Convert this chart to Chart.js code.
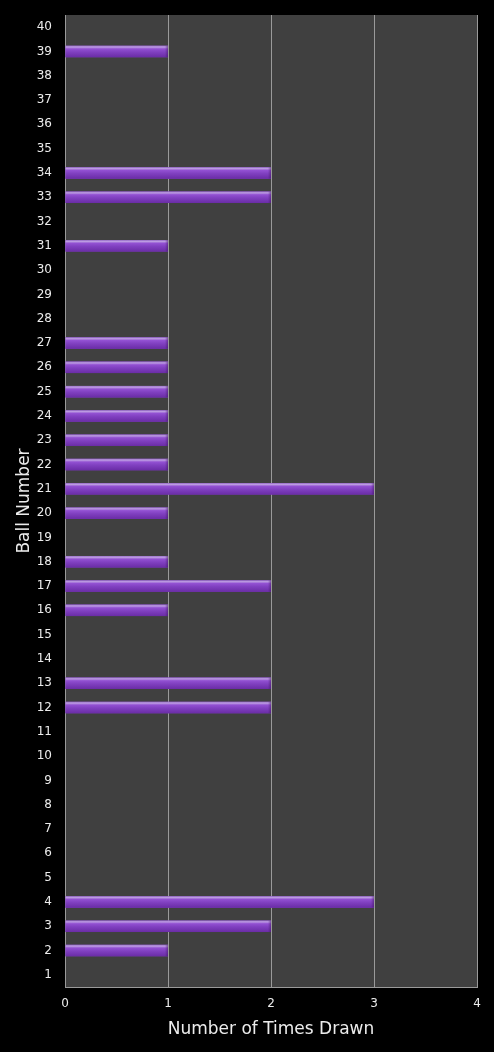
<!DOCTYPE html>
<html>
<head>
<meta charset="utf-8">
<script src="https://cdn.jsdelivr.net/npm/chart.js@4/dist/chart.umd.min.js"></script>
<style>
  html, body { margin: 0; padding: 0; background: #000; }
  #wrap { width: 494px; height: 1052px; }
</style>
</head>
<body>
<div id="wrap"><canvas id="chart"></canvas></div>
<script>
// ball numbers 1..40 and how often each was drawn
const ballNumbers = Array.from({ length: 40 }, (_, i) => String(i + 1));
const timesDrawn = [
  0, 1, 2, 3, 0, 0, 0, 0, 0, 0,   // 1-10
  0, 2, 2, 0, 0, 1, 2, 1, 0, 1,   // 11-20
  3, 1, 1, 1, 1, 1, 1, 0, 0, 0,   // 21-30
  1, 0, 2, 2, 0, 0, 0, 0, 1, 0    // 31-40
];
const xTicks = [0, 1, 2, 3, 4];

const textColor = '#ececec';
const gridColor = '#9a9a9a';

// gray plot background behind the bars
const plotBackground = {
  id: 'plotBackground',
  beforeDraw(chart) {
    const { ctx, chartArea: a } = chart;
    ctx.save();
    ctx.fillStyle = '#000';
    ctx.fillRect(0, 0, chart.width, chart.height);
    ctx.fillStyle = '#404040';
    ctx.fillRect(a.left, a.top, a.right - a.left, a.bottom - a.top);
    ctx.restore();
  }
};

// glossy shading on each bar, from the bar elements themselves
const barShine = {
  id: 'barShine',
  afterDatasetsDraw(chart) {
    const { ctx } = chart;
    chart.getDatasetMeta(0).data.forEach((bar, i) => {
      if (!timesDrawn[i]) return;
      const top = bar.y - bar.height / 2;
      const h = bar.height;
      const left = Math.min(bar.x, bar.base);
      const w = Math.abs(bar.x - bar.base);
      const g = ctx.createLinearGradient(0, top, 0, top + h);
      g.addColorStop(0, '#9a72c8');
      g.addColorStop(0.12, '#bc9ce2');
      g.addColorStop(0.28, '#9250d2');
      g.addColorStop(0.55, '#8040c0');
      g.addColorStop(1, '#6a2ca6');
      ctx.save();
      ctx.fillStyle = g;
      ctx.fillRect(left, top, w, h);
      // darker rounded end
      const e = ctx.createLinearGradient(left + w - 3, 0, left + w, 0);
      e.addColorStop(0, 'rgba(60,20,90,0)');
      e.addColorStop(1, 'rgba(60,20,90,0.5)');
      ctx.fillStyle = e;
      ctx.fillRect(left + w - 3, top, 3, h);
      ctx.restore();
    });
  }
};

new Chart(document.getElementById('chart'), {
  type: 'bar',
  data: {
    labels: ballNumbers,
    datasets: [{
      label: 'Number of Times Drawn',
      data: timesDrawn,
      backgroundColor: '#8040c0',
      borderWidth: 0,
      barPercentage: 0.95,
      categoryPercentage: 0.5
    }]
  },
  options: {
    indexAxis: 'y',
    responsive: true,
    maintainAspectRatio: false,
    animation: false,
    layout: { padding: { top: 15, right: 17, left: 0, bottom: 0 } },
    plugins: {
      legend: { display: false },
      tooltip: { enabled: false }
    },
    scales: {
      x: {
        min: 0,
        max: 4,
        afterFit(scale) { scale.height = 65; },
        afterBuildTicks(scale) { scale.ticks = xTicks.map(v => ({ value: v })); },
        grid: { color: gridColor, lineWidth: 1, drawTicks: false },
        border: { display: true, color: gridColor, width: 1 },
        ticks: { color: textColor, padding: 10, font: { family: 'DejaVu Sans', size: 12 } },
        title: {
          display: true,
          text: 'Number of Times Drawn',
          color: textColor,
          font: { family: 'DejaVu Sans', size: 17 },
          padding: { top: 0, bottom: 12 }
        }
      },
      y: {
        reverse: true,
        afterFit(scale) {
          scale.width = 65;
          scale.paddingTop = 0;
          scale.paddingBottom = 0;
        },
        grid: { display: false, drawTicks: false },
        border: { display: true, color: gridColor, width: 1 },
        ticks: { color: textColor, padding: 13, autoSkip: false, font: { family: 'DejaVu Sans', size: 12 } },
        title: {
          display: true,
          text: 'Ball Number',
          color: textColor,
          font: { family: 'DejaVu Sans', size: 17 },
          padding: { top: 14, bottom: 14 }
        }
      }
    }
  },
  plugins: [plotBackground, barShine]
});
</script>
</body>
</html>
